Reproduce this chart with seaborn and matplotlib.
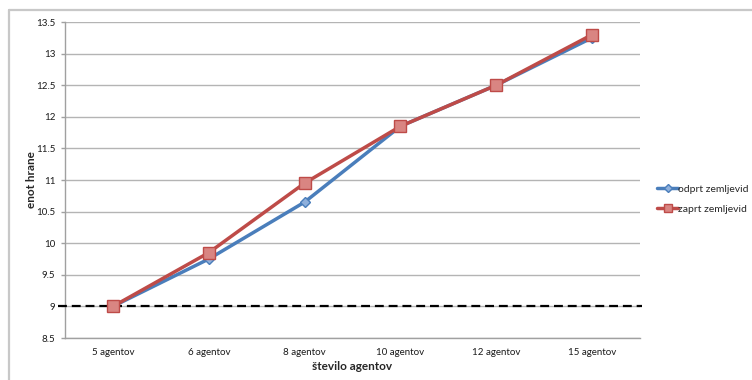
import matplotlib
matplotlib.use("Agg")
import matplotlib.pyplot as plt
from matplotlib.lines import Line2D
import seaborn as sns
import pandas as pd

categories = ["5 agentov", "6 agentov", "8 agentov", "10 agentov", "12 agentov", "15 agentov"]
odprt = [9.0, 9.75, 10.65, 11.85, 12.5, 13.25]
zaprt = [9.0, 9.85, 10.95, 11.85, 12.5, 13.3]
series_names = ["odprt zemljevid", "zaprt zemljevid"]
baseline = 9.0
y_ticks = [8.5, 9, 9.5, 10, 10.5, 11, 11.5, 12, 12.5, 13, 13.5]
y_ticklabels = ["8.5", "9", "9.5", "10", "10.5", "11", "11.5", "12", "12.5", "13", "13.5"]

df = pd.DataFrame({
    "agenti": categories * 2,
    "enote": odprt + zaprt,
    "serija": [series_names[0]] * len(categories) + [series_names[1]] * len(categories),
})

sns.set_theme(style="white")
plt.rcParams["font.family"] = ["Lato", "DejaVu Sans"]

fig = plt.figure(figsize=(7.52, 3.8), dpi=100)
ax = fig.add_axes([65 / 752, 1 - 338 / 380, (640 - 65) / 752, (338 - 22) / 380])

line_colors = {"odprt zemljevid": "#4a7ebb", "zaprt zemljevid": "#be4b48"}
sns.lineplot(data=df, x="agenti", y="enote", hue="serija", style="serija",
             palette=line_colors, markers={"odprt zemljevid": "D", "zaprt zemljevid": "s"},
             dashes=False, linewidth=2.5, sort=False, ax=ax, legend=False)

marker_face = {"odprt zemljevid": "#8fb0dc", "zaprt zemljevid": "#d98582"}
for ln, name in zip(ax.lines, series_names):
    ln.set_markerfacecolor(marker_face[name])
    ln.set_markeredgecolor(line_colors[name])
    ln.set_markeredgewidth(1.0)
    ln.set_markersize(5 if name == "odprt zemljevid" else 8)
    ln.set_zorder(4 if name == "odprt zemljevid" else 5)

ax.axhline(baseline, xmin=-0.012, xmax=1.003, color="black", linestyle=(0, (4, 2.2)),
           linewidth=1.6, clip_on=False, zorder=3)

ax.set_xlim(-0.5, len(categories) - 0.5)
ax.set_ylim(8.5, 13.5)
ax.set_yticks(y_ticks)
ax.set_yticklabels(y_ticklabels)
ax.yaxis.grid(True, color="#b4b4b4", linewidth=1.0)
ax.set_axisbelow(True)

for side in ["top", "right"]:
    ax.spines[side].set_visible(False)
for side in ["left", "bottom"]:
    ax.spines[side].set_color("#a0a0a0")
    ax.spines[side].set_linewidth(1.0)

ax.tick_params(axis="y", which="both", left=True, length=3, width=1.0, color="#a0a0a0",
               labelsize=7, pad=4, labelcolor="#1a1a1a")
ax.tick_params(axis="x", bottom=False, length=0, labelsize=7, pad=7, labelcolor="#1a1a1a")

ax.set_xlabel("število agentov", fontsize=8.5, fontweight="bold", labelpad=3)
ax.set_ylabel("enot hrane", fontsize=8.5, fontweight="bold", labelpad=-1)

handles = [Line2D([0], [0], color=line_colors[n], linewidth=2.5,
                  marker="D" if n == "odprt zemljevid" else "s",
                  markersize=4 if n == "odprt zemljevid" else 6,
                  markerfacecolor=marker_face[n], markeredgecolor=line_colors[n])
           for n in series_names]
fig.legend(handles, series_names, loc="center left", bbox_to_anchor=(655 / 752, 1 - 199 / 380),
           frameon=False, fontsize=7.5, handlelength=2.0, handletextpad=0.05, labelspacing=1.0,
           borderaxespad=0.0, borderpad=0.2)

# outer chart frame (top and left edges)
frame_color = "#c8c8c8"
fig.add_artist(Line2D([8.5 / 752, 1.0], [1 - 9.5 / 380, 1 - 9.5 / 380],
                      transform=fig.transFigure, color=frame_color, linewidth=1.6))
fig.add_artist(Line2D([8.5 / 752, 8.5 / 752], [0.0, 1 - 9.5 / 380],
                      transform=fig.transFigure, color=frame_color, linewidth=1.6))

fig.savefig("out.png", dpi=100)
